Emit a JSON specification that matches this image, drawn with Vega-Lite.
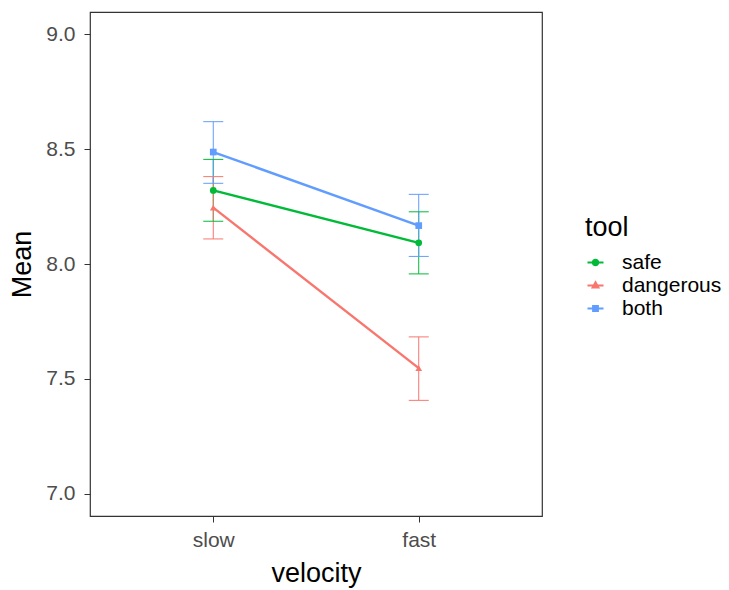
{
  "$schema": "https://vega.github.io/schema/vega-lite/v6.json",
  "width": 452,
  "height": 504,
  "autosize": {"type": "none"},
  "padding": {"left": 90, "top": 12, "right": 187, "bottom": 74},
  "background": "white",
  "config": {
    "font": "Liberation Sans",
    "view": {"stroke": "#333333", "strokeWidth": 1.2},
    "axis": {
      "grid": false,
      "domain": false,
      "tickColor": "#333333",
      "tickSize": 6,
      "labelColor": "#4D4D4D",
      "labelFontSize": 21,
      "titleFontSize": 27,
      "titleFontWeight": "normal",
      "titleColor": "black"
    }
  },
  "data": {
    "values": [
      {"velocity": "slow", "tool": "safe", "mean": 8.320, "lo": 8.186, "hi": 8.455},
      {"velocity": "slow", "tool": "dangerous", "mean": 8.245, "lo": 8.109, "hi": 8.380},
      {"velocity": "slow", "tool": "both", "mean": 8.487, "lo": 8.351, "hi": 8.619},
      {"velocity": "fast", "tool": "safe", "mean": 8.092, "lo": 7.957, "hi": 8.227},
      {"velocity": "fast", "tool": "dangerous", "mean": 7.547, "lo": 7.407, "hi": 7.683},
      {"velocity": "fast", "tool": "both", "mean": 8.167, "lo": 8.033, "hi": 8.303}
    ]
  },
  "encoding": {
    "x": {
      "field": "velocity",
      "type": "nominal",
      "sort": ["slow", "fast"],
      "scale": {"type": "point", "padding": 0.6},
      "axis": {"labelAngle": 0, "title": "velocity", "labelPadding": 7, "titlePadding": 10}
    },
    "y": {"field": "mean", "type": "quantitative", "title": "Mean",
      "scale": {"domain": [6.904, 9.096], "nice": false, "zero": false},
      "axis": {"values": [7, 7.5, 8, 8.5, 9], "format": ".1f", "labelPadding": 9, "titlePadding": 9}},
    "color": {
      "field": "tool",
      "type": "nominal",
      "sort": ["safe", "dangerous", "both"],
      "scale": {"domain": ["safe", "dangerous", "both"], "range": ["#00BA38", "#F8766D", "#619CFF"]},
      "legend": {
        "orient": "none",
        "legendX": 495,
        "legendY": 203,
        "title": "tool",
        "titleFontSize": 27,
        "titleFontWeight": "normal",
        "titleColor": "black",
        "titlePadding": 10,
        "labelFontSize": 21,
        "labelColor": "black",
        "labelOffset": 16,
        "symbolSize": 256,
        "symbolStrokeWidth": 2,
        "rowPadding": 1,
        "encode": {
          "symbols": {
            "update": {
              "shape": {"signal": "datum.value === 'safe' ? 'M-1,0H1M0.34,0A0.34,0.34 0 1,1 -0.34,0A0.34,0.34 0 1,1 0.34,0' : datum.value === 'dangerous' ? 'M-1,0H1M0,-0.4L0.36,0.24L-0.36,0.24Z' : 'M-1,0H1M-0.3,-0.3H0.3V0.3H-0.3Z'"},
              "size": {"value": 256},
              "fill": {"signal": "scale('color', datum.value)"},
              "stroke": {"signal": "scale('color', datum.value)"},
              "strokeWidth": {"value": 2},
              "opacity": {"value": 1}
            }
          }
        }
      }
    }
  },
  "layer": [
    {
      "mark": {"type": "rule", "strokeWidth": 1, "opacity": 1},
      "encoding": {
        "y": {"field": "lo", "type": "quantitative", "title": "Mean"},
        "y2": {"field": "hi"}
      }
    },
    {
      "mark": {"type": "tick", "size": 20, "thickness": 1, "opacity": 1},
      "encoding": {
        "y": {"field": "lo", "type": "quantitative", "title": "Mean"}
      }
    },
    {
      "mark": {"type": "tick", "size": 20, "thickness": 1, "opacity": 1},
      "encoding": {
        "y": {"field": "hi", "type": "quantitative", "title": "Mean"}
      }
    },
    {
      "mark": {"type": "line", "strokeWidth": 2.4},
      "encoding": {}
    },
    {
      "transform": [{"filter": "datum.tool === 'safe'"}],
      "mark": {"type": "point", "shape": "circle", "filled": true, "size": 45, "opacity": 1},
      "encoding": {}
    },
    {
      "transform": [{"filter": "datum.tool === 'dangerous'"}],
      "mark": {"type": "point", "shape": "triangle-up", "filled": true, "size": 45, "opacity": 1},
      "encoding": {}
    },
    {
      "transform": [{"filter": "datum.tool === 'both'"}],
      "mark": {"type": "point", "shape": "square", "filled": true, "size": 45, "opacity": 1},
      "encoding": {}
    }
  ]
}
